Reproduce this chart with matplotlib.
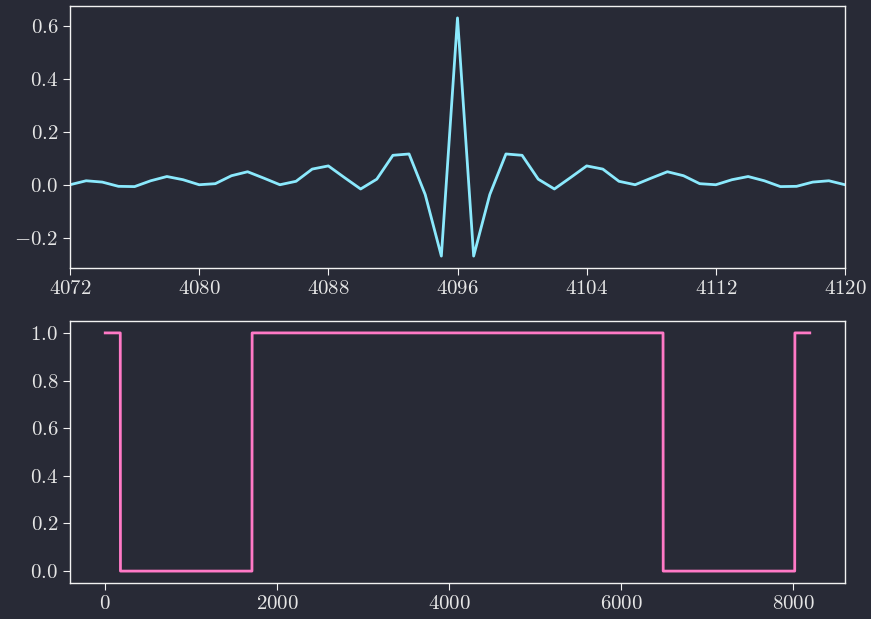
import numpy as np
import matplotlib
matplotlib.use("Agg")
import matplotlib.pyplot as plt

# ---- data ----
# top panel: impulse response around the centre sample
n_top = list(range(4072, 4121))
h_top = [0.000, 0.015, 0.010, -0.006, -0.007, 0.015, 0.031, 0.019, 0.000, 0.004,
         0.034, 0.049, 0.025, 0.000, 0.013, 0.059, 0.071, 0.027, -0.016, 0.021,
         0.111, 0.116, -0.037, -0.269, 0.629, -0.269, -0.037, 0.116, 0.111, 0.021,
         -0.016, 0.027, 0.071, 0.059, 0.013, 0.000, 0.025, 0.049, 0.034, 0.004,
         0.000, 0.019, 0.031, 0.015, -0.007, -0.006, 0.010, 0.015, 0.000]

# bottom panel: frequency mask (piecewise constant)
n_bins = 8192
seg_edges = [0, 176, 1707, 6486, 8017, 8192]
seg_levels = [1.0, 0.0, 1.0, 0.0, 1.0]

mask = np.zeros(n_bins)
for a, b, v in zip(seg_edges[:-1], seg_edges[1:], seg_levels):
    mask[a:b] = v

BG = "#282a36"
FG = "#f2f2f2"
CYAN = "#8be9fd"
PINK = "#ff79c6"

plt.rcParams.update({
    "font.family": "cmr10",
    "mathtext.fontset": "cm",
    "axes.formatter.use_mathtext": True,
    "font.size": 15,
    "axes.edgecolor": FG,
    "xtick.color": FG,
    "ytick.color": FG,
    "xtick.labelcolor": "#e6e6e6",
    "ytick.labelcolor": "#e6e6e6",
    "xtick.major.size": 5,
    "ytick.major.size": 5,
    "axes.linewidth": 1.0,
})

fig = plt.figure(figsize=(8.71, 6.19), dpi=100, facecolor=BG)
ax1 = fig.add_axes([70/871, 1-268/619, 775/871, 262/619])
ax2 = fig.add_axes([70/871, 1-583/619, 775/871, 262/619])

for ax in (ax1, ax2):
    ax.set_facecolor(BG)

ax1.plot(n_top, h_top, color=CYAN, lw=2)
ax1.set_xlim(4072, 4120)
ax1.set_xticks([4072, 4080, 4088, 4096, 4104, 4112, 4120])
ax1.set_yticks([-0.2, 0.0, 0.2, 0.4, 0.6])

ax2.plot(np.arange(n_bins), mask, color=PINK, lw=2)
ax2.set_xticks([0, 2000, 4000, 6000, 8000])
ax2.set_yticks([0.0, 0.2, 0.4, 0.6, 0.8, 1.0])

fig.savefig("out.png", dpi=100, facecolor=BG)
